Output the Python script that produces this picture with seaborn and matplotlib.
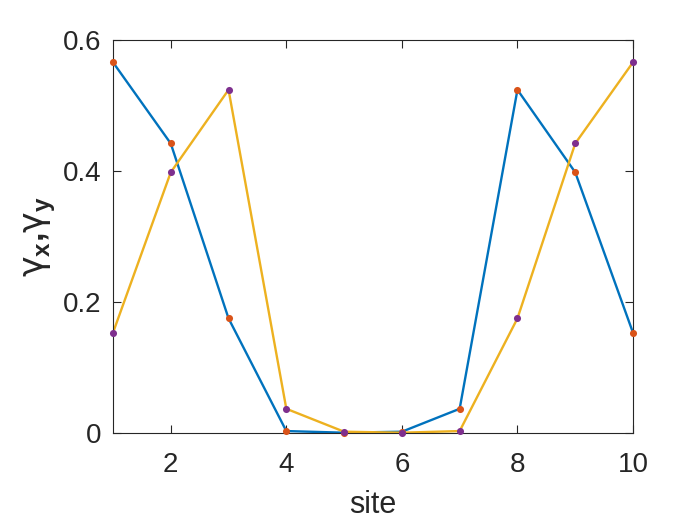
import numpy as np
import pandas as pd
import matplotlib
matplotlib.use("Agg")
import matplotlib.pyplot as plt
import seaborn as sns

sites = [1, 2, 3, 4, 5, 6, 7, 8, 9, 10]
gamma_x = [0.566, 0.442, 0.175, 0.003, 0.0005, 0.002, 0.037, 0.524, 0.398, 0.153]
gamma_y = [0.153, 0.398, 0.524, 0.037, 0.002, 0.0005, 0.003, 0.175, 0.442, 0.566]
xticks = [2, 4, 6, 8, 10]
yticks = [0, 0.2, 0.4, 0.6]
yticklabels = ["0", "0.2", "0.4", "0.6"]

sns.set_style("white")
plt.rcParams["font.family"] = ["Liberation Sans", "DejaVu Sans"]
plt.rcParams["mathtext.fontset"] = "custom"
plt.rcParams["mathtext.rm"] = "DejaVu Sans"
plt.rcParams["mathtext.it"] = "DejaVu Sans"
plt.rcParams["mathtext.bf"] = "Liberation Sans:bold"

dark = "#262626"
blue = "#0072BD"
yellow = "#EDB120"
orange = "#D95319"
purple = "#7E2F8E"

fig = plt.figure(figsize=(7, 5.25), dpi=100)
ax = fig.add_axes([0.1614, 0.1752, 0.7429, 0.7486])

df = pd.DataFrame({"site": sites, "gx": gamma_x, "gy": gamma_y})
sns.lineplot(data=df, x="site", y="gx", ax=ax, color=blue, linewidth=1.7)
sns.lineplot(data=df, x="site", y="gy", ax=ax, color=yellow, linewidth=1.7)
sns.scatterplot(data=df, x="site", y="gx", ax=ax, color=orange, s=26, marker="o",
                edgecolor=orange, linewidth=0, zorder=5)
sns.scatterplot(data=df, x="site", y="gy", ax=ax, color=purple, s=26, marker="o",
                edgecolor=purple, linewidth=0, zorder=6)
for coll in ax.collections:
    coll.set_clip_on(False)

ax.set_xlim(1, 10)
ax.set_ylim(0, 0.6)
ax.set_xticks(xticks)
ax.set_yticks(yticks)
ax.set_yticklabels(yticklabels)
ax.tick_params(direction="in", length=6, width=0.8, colors=dark, labelsize=20,
               top=True, right=True, bottom=True, left=True)
ax.tick_params(axis="x", pad=14)
ax.tick_params(axis="y", pad=8)
for sp in ax.spines.values():
    sp.set_visible(True)
    sp.set_color(dark)
    sp.set_linewidth(0.8)
    sp.set_zorder(4)

ax.set_xlabel("site", fontsize=22, color=dark, labelpad=8)
ax.set_ylabel(r"$\gamma_{\mathbf{x}}\mathbf{,}\gamma_{\mathbf{y}}$", fontsize=25, color=dark, labelpad=4)

fig.savefig("out.png", dpi=100)
